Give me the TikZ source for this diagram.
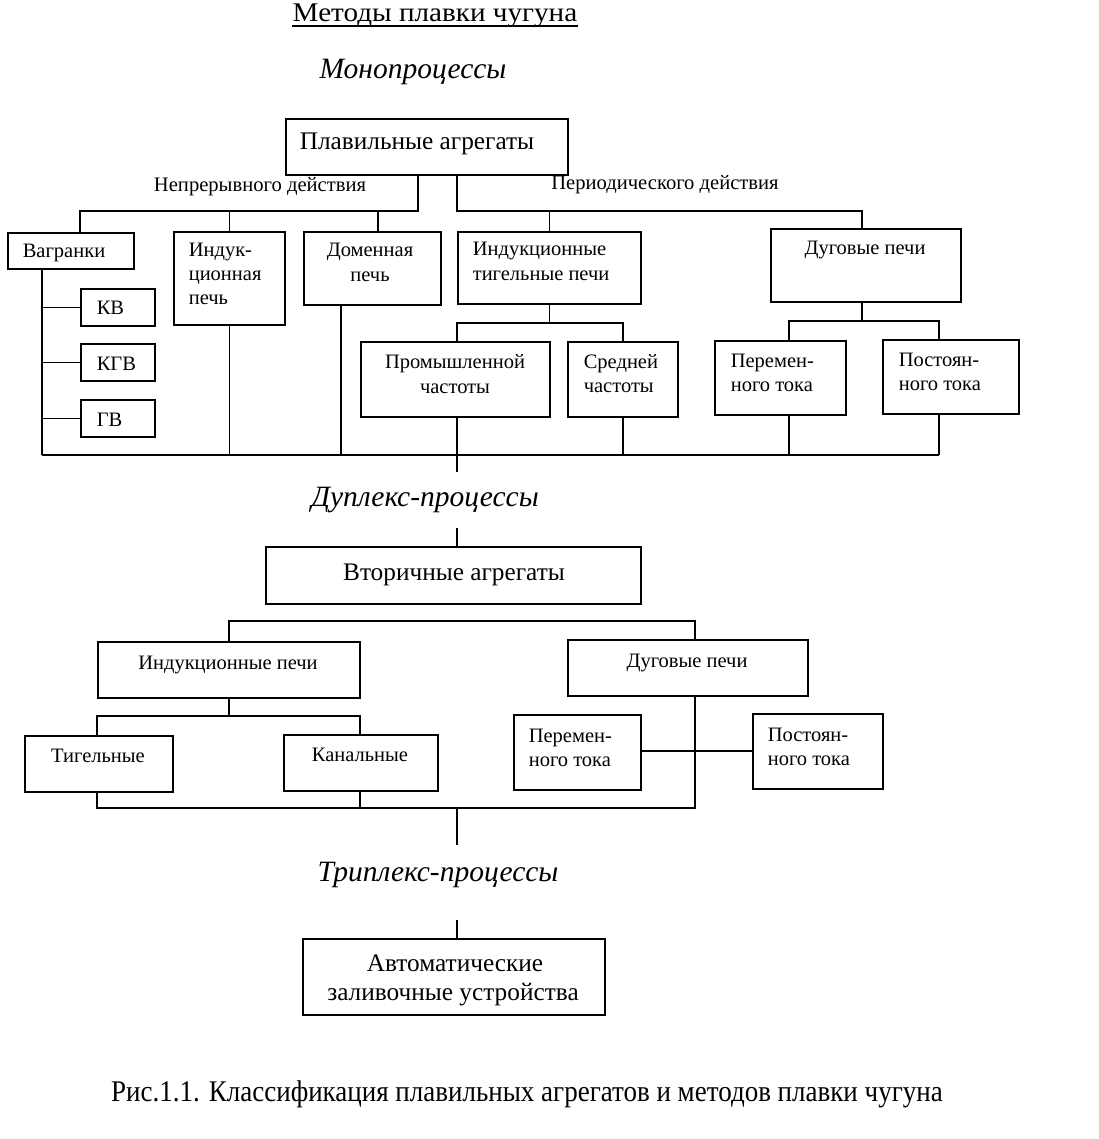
\documentclass[tikz,border=0pt]{standalone}
\usepackage{fontspec}
\setmainfont{Liberation Serif}
\newfontfamily\condf[FakeStretch=0.9]{Liberation Serif}
\newfontfamily\widef[FakeStretch=1.08]{Liberation Serif}
\newcommand\bx[5]{\node[bx, minimum width={#4-#2}, minimum height={#5-#3}] (#1) at (#2,#3) {};}
\begin{document}
\begin{tikzpicture}[x=1pt,y=-1pt,line width=1.6pt,
  bx/.style={draw, inner sep=0pt, anchor=north west},
  sm/.style={inner sep=0pt, font=\fontsize{20.5}{20.5}\selectfont},
  lg/.style={inner sep=0pt, font=\fontsize{25.3}{25.3}\selectfont},
  hd/.style={inner sep=0pt, font=\fontsize{29.5}{29.5}\selectfont\itshape},
  lb/.style={inner sep=0pt, font=\fontsize{20.6}{20.6}\selectfont},
  cl/.style={anchor=base},
  ll/.style={anchor=base west}]
\useasboundingbox (0,0) rectangle (1098,1139);
% title
\node[cl,inner sep=0pt,font=\fontsize{27}{27}\widef] (title) at (435,22) {Методы плавки чугуна};
\draw[line width=1.2pt] ([yshift=-4pt]title.base west) -- ([yshift=-4pt]title.base east);
\node[hd,cl] (mono) at (413,79) {Монопроцессы};
% main box
\bx{pa}{285}{118}{567}{174}
\node[lg,cl] (tpa) at (417,150) {Плавильные агрегаты};
\node[lb,cl] (lcont) at (260,192) {Непрерывного действия};
\node[lb,cl] (lper) at (665,190) {Периодического действия};
% level 2
\bx{vag}{7}{232}{133}{268}
\node[sm,ll] (tvag) at (22,258) {Вагранки};
\bx{kv}{80}{288}{154}{325}
\node[sm,ll] (tkv) at (96,314) {КВ};
\bx{kgv}{80}{343}{154}{380}
\node[sm,ll] (tkgv) at (96,370) {КГВ};
\bx{gv}{80}{399}{154}{436}
\node[sm,ll] (tgv) at (96,426) {ГВ};
\bx{ind}{173}{231}{284}{324}
\node[sm,ll] (tind1) at (188,257) {Индук-};
\node[sm,ll] (tind2) at (188,281) {ционная};
\node[sm,ll] (tind3) at (188,305) {печь};
\bx{dom}{303}{231}{440}{304}
\node[sm,cl] (tdom1) at (370,257) {Доменная};
\node[sm,cl] (tdom2) at (370,282) {печь};
\bx{itp}{457}{231}{640}{303}
\node[sm,ll] (titp1) at (472,256) {Индукционные};
\node[sm,ll] (titp2) at (472,281) {тигельные печи};
\bx{dp}{770}{228}{960}{301}
\node[sm,cl] (tdp) at (865,255) {Дуговые печи};
% level 3
\bx{prom}{360}{341}{549}{416}
\node[sm,cl] (tprom1) at (455,368) {Промышленной};
\node[sm,cl] (tprom2) at (455,393) {частоты};
\bx{sred}{567}{341}{677}{416}
\node[sm,ll] (tsred1) at (583,368) {Средней};
\node[sm,ll] (tsred2) at (583,392) {частоты};
\bx{per}{714}{340}{845}{414}
\node[sm,ll] (tper1) at (730,367) {Перемен-};
\node[sm,ll] (tper2) at (730,391) {ного тока};
\bx{pos}{882}{339}{1018}{413}
\node[sm,ll] (tpos1) at (898,366) {Постоян-};
\node[sm,ll] (tpos2) at (898,390) {ного тока};
% connectors top part
\coordinate (bL) at (80,211);
\coordinate (bR) at (862,211);
\coordinate (xdom) at (378,0);
\coordinate (xdom2) at (341,0);
\coordinate (xa) at (418,0);
\coordinate (xb) at (457,0);
\draw (pa.south -| xa) |- (bL) -- (vag.north -| bL);
\draw (bL -| ind.north) -- (ind.north);
\draw (bL -| xdom) -- (dom.north -| xdom);
\draw (pa.south -| xb) |- (bR) -- (dp.north -| bR);
\draw (bR -| itp.north) -- (itp.north);
\coordinate (b3) at (457,323);
\coordinate (b4) at (789,321);
\coordinate (b4r) at (939,321);
\coordinate (xpos) at (939,0);
\draw (itp.south) -- (itp.south |- b3);
\draw (prom.north -| b3) |- (sred.north |- b3) -- (sred.north);
\draw (dp.south -| bR) -- (bR |- b4);
\draw (per.north -| b4) -- (b4) -- (b4r) -- (pos.north -| b4r);
% vagranki comb
\coordinate (xv) at (42,0);
\coordinate (bb) at (42,455);
\draw (vag.south -| xv) -- (bb);
\draw (kv.west -| xv) -- (kv.west);
\draw (kgv.west -| xv) -- (kgv.west);
\draw (gv.west -| xv) -- (gv.west);
\draw (bb) -- (bb -| xpos);
\draw (ind.south) -- (ind.south |- bb);
\draw (dom.south -| xdom2) -- (bb -| xdom2);
\draw (prom.south -| xb) -- (bb -| xb);
\draw (sred.south) -- (sred.south |- bb);
\draw (per.south -| b4) -- (bb -| b4);
\draw (pos.south -| xpos) -- (bb -| xpos);
\coordinate (d1) at (457,472);
\draw (bb -| xb) -- (d1);
% duplex
\node[hd,cl] (duplex) at (425,506) {Дуплекс-процессы};
\coordinate (d2) at (457,528);
\bx{vt}{265}{546}{640}{603}
\draw (d2) -- (vt.north -| d2);
\node[lg,cl] (tvt) at (454,580) {Вторичные агрегаты};
\bx{ip}{97}{641}{359}{697}
\node[sm,cl] (tip) at (228,669) {Индукционные печи};
\bx{dp2}{567}{639}{807}{695}
\node[sm,cl] (tdp2) at (687,667) {Дуговые печи};
\coordinate (b5) at (229,621);
\coordinate (xd2) at (695,0);
\draw (ip.north -| b5) -- (b5) -- (b5 -| xd2) -- (dp2.north -| xd2);
\bx{tig}{24}{735}{172}{791}
\node[sm,cl] (ttig) at (98,762) {Тигельные};
\bx{kan}{283}{734}{437}{790}
\node[sm,cl] (tkan) at (360,761) {Канальные};
\coordinate (b6) at (229,716);
\coordinate (xt) at (97,0);
\coordinate (xk) at (360,0);
\draw (ip.south -| b6) -- (b6);
\draw (tig.north -| xt) |- (b6) -| (kan.north -| xk);
\bx{per2}{513}{714}{640}{789}
\node[sm,ll] (tper21) at (528,742) {Перемен-};
\node[sm,ll] (tper22) at (528,766) {ного тока};
\bx{pos2}{752}{713}{882}{788}
\node[sm,ll] (tpos21) at (767,741) {Постоян-};
\node[sm,ll] (tpos22) at (767,765) {ного тока};
\coordinate (b7) at (97,808);
\coordinate (ym) at (0,751);
\draw (tig.south -| xt) -- (b7) -- (b7 -| xd2) -- (dp2.south -| xd2);
\draw (kan.south -| xk) -- (b7 -| xk);
\draw (per2.east |- ym) -- (pos2.west |- ym);
\coordinate (t1) at (457,845);
\draw (b7 -| xb) -- (t1);
% triplex
\node[hd,cl] (triplex) at (438,881) {Триплекс-процессы};
\coordinate (t2) at (457,920);
\bx{avt}{302}{938}{604}{1014}
\draw (t2) -- (avt.north -| t2);
\node[lg,cl] (tavt1) at (455,971) {Автоматические};
\node[lg,cl] (tavt2) at (453,1000) {заливочные устройства};
% caption
\node[cl,inner sep=0pt,font=\fontsize{30}{30}\condf] (cap) at (527,1101) {Рис.1.1. Классификация плавильных агрегатов и методов плавки чугуна};
\end{tikzpicture}
\end{document}
